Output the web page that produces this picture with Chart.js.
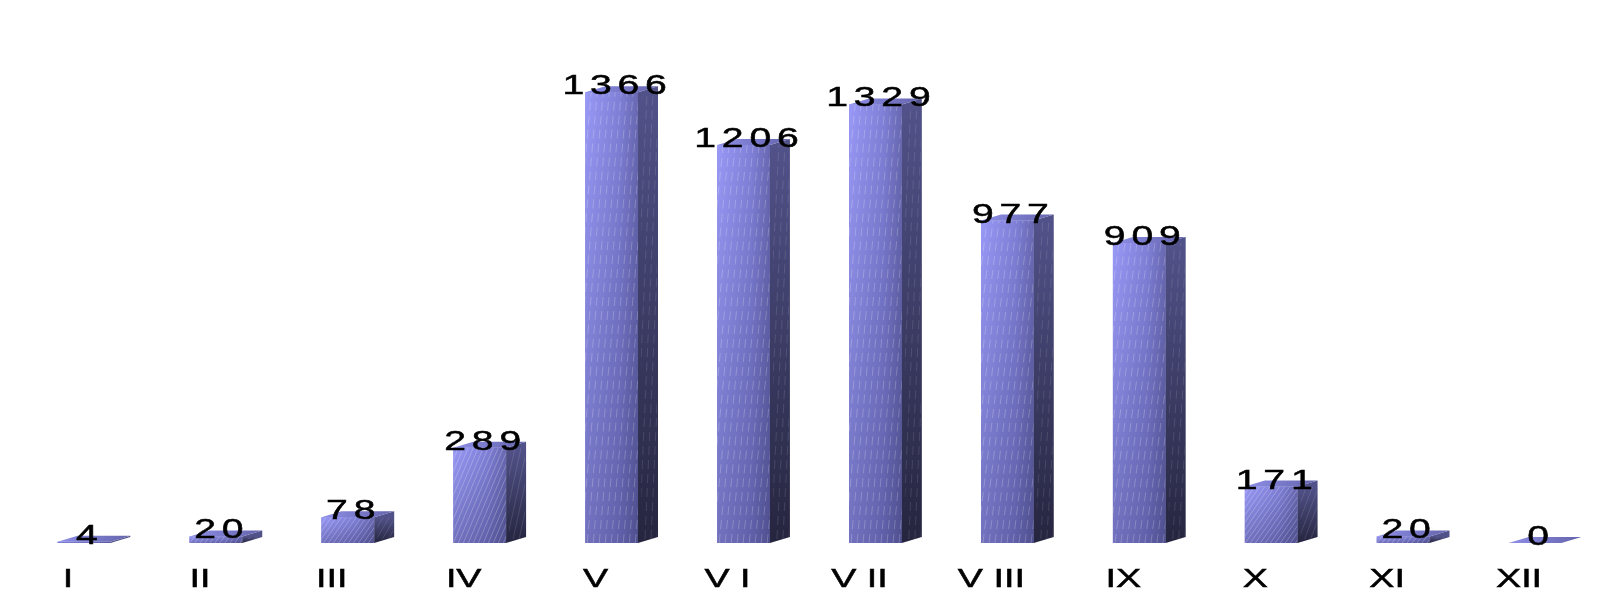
<!DOCTYPE html>
<html>
<head>
<meta charset="utf-8">
<script src="https://cdn.jsdelivr.net/npm/chart.js@4"></script>
<style>
  html, body { margin: 0; background: #fff; }
</style>
</head>
<body>
<canvas id="monthsChart" width="1601" height="613"></canvas>
<script>
// monthly counts, roman numeral months (spaced like the original)
const months = ["I", "II", "III", "IV", "V", "V I", "V II", "V III", "IX", "X", "XI", "XII"];
const counts = [4, 20, 78, 289, 1366, 1206, 1329, 977, 909, 171, 20, 0];

const DEPTH_X = 20, DEPTH_Y = -6; // fake 3d offset
const STRETCH = 1.45;              // the labels are drawn wide

function wideText(ctx, text, cx, baseline, size, spacing) {
  ctx.save();
  ctx.font = size + 'px "Liberation Sans", Arial, sans-serif';
  ctx.letterSpacing = spacing + "px";
  const w = ctx.measureText(text).width - spacing;
  ctx.translate(cx, baseline);
  ctx.scale(STRETCH, 1);
  ctx.fillStyle = "#000";
  ctx.strokeStyle = "#000";
  ctx.lineWidth = 0.5;
  ctx.textBaseline = "alphabetic";
  ctx.fillText(text, -w / 2, 0);
  ctx.strokeText(text, -w / 2, 0);
  ctx.restore();
}

function hatch(ctx, l, top, w, h, drift, step, alpha, dashed) {
  if (h < 2) return;
  ctx.save();
  ctx.beginPath();
  ctx.rect(l, top, w, h);
  ctx.clip();
  ctx.strokeStyle = "rgba(255,255,255," + alpha + ")";
  ctx.lineWidth = 0.8;
  if (dashed) ctx.setLineDash([9, 5]);
  for (let sx = l - drift; sx < l + w + 2; sx += step) {
    ctx.beginPath();
    ctx.moveTo(sx, top + h);
    ctx.lineTo(sx + drift, top);
    ctx.stroke();
  }
  ctx.restore();
}

const bars3d = {
  id: "bars3d",
  afterDatasetsDraw(chart) {
    const ctx = chart.ctx;
    const meta = chart.getDatasetMeta(0);
    meta.data.forEach((bar) => {
      const p = bar.getProps(["x", "y", "base", "width"], true);
      const l = p.x - p.width / 2, r = p.x + p.width / 2;
      const top = p.y, base = p.base, h = base - top;
      const tall = h > 150;

      // front face
      const g = ctx.createLinearGradient(l, 0, r, 0);
      g.addColorStop(0, "#9999f7");
      g.addColorStop(0.65, "#8080d8");
      g.addColorStop(1, "#6868b2");
      ctx.fillStyle = g;
      ctx.fillRect(l, top, p.width, h);
      const v = ctx.createLinearGradient(0, top, 0, base);
      v.addColorStop(0, "rgba(20,20,60,0)");
      v.addColorStop(1, "rgba(20,20,60,0.3)");
      ctx.fillStyle = v;
      ctx.fillRect(l, top, p.width, h);
      hatch(ctx, l, top, p.width, h, Math.min(40, h * 0.7), tall ? 6 : 5, tall ? 0.28 : 0.3, tall);

      // side face
      const s = ctx.createLinearGradient(0, top, 0, base);
      s.addColorStop(0, "#52528a");
      s.addColorStop(1, "#25253f");
      ctx.fillStyle = s;
      ctx.beginPath();
      ctx.moveTo(r, top);
      ctx.lineTo(r + DEPTH_X, top + DEPTH_Y);
      ctx.lineTo(r + DEPTH_X, base + DEPTH_Y);
      ctx.lineTo(r, base);
      ctx.closePath();
      ctx.fill();
      hatch(ctx, r + 3, top, DEPTH_X - 4, h - 4, Math.min(20, h * 0.5), 6, 0.15, tall);

      // top face
      const t = ctx.createLinearGradient(l, 0, r + DEPTH_X, 0);
      t.addColorStop(0, "#8e8ee8");
      t.addColorStop(1, "#6464ac");
      ctx.fillStyle = t;
      ctx.beginPath();
      ctx.moveTo(l, top);
      ctx.lineTo(l + DEPTH_X, top + DEPTH_Y);
      ctx.lineTo(r + DEPTH_X, top + DEPTH_Y);
      ctx.lineTo(r, top);
      ctx.closePath();
      ctx.fill();
    });
  },
  afterDraw(chart) {
    const ctx = chart.ctx;
    const xs = chart.scales.x;
    const meta = chart.getDatasetMeta(0);
    // value labels
    meta.data.forEach((bar, i) => {
      wideText(ctx, String(counts[i]), bar.x + 3, bar.y + 2, 27, 4);
    });
    // category labels, set a bit left of the bars like the 3d original
    months.forEach((m, i) => {
      wideText(ctx, m, xs.getPixelForValue(i) - 16, 587, 26, 0);
    });
  }
};

new Chart(document.getElementById("monthsChart").getContext("2d"), {
  type: "bar",
  data: {
    labels: months,
    datasets: [{
      data: counts,
      backgroundColor: "#8383dc",
      borderWidth: 0,
      barPercentage: 0.4,
      categoryPercentage: 1
    }]
  },
  options: {
    responsive: false,
    animation: false,
    devicePixelRatio: 1,
    layout: { padding: { left: 18, right: 0, top: 15, bottom: 70 } },
    plugins: { legend: { display: false }, tooltip: { enabled: false } },
    scales: {
      x: { display: false },
      y: { display: false, min: 0, max: 1600 }
    }
  },
  plugins: [bars3d]
});
</script>
</body>
</html>
